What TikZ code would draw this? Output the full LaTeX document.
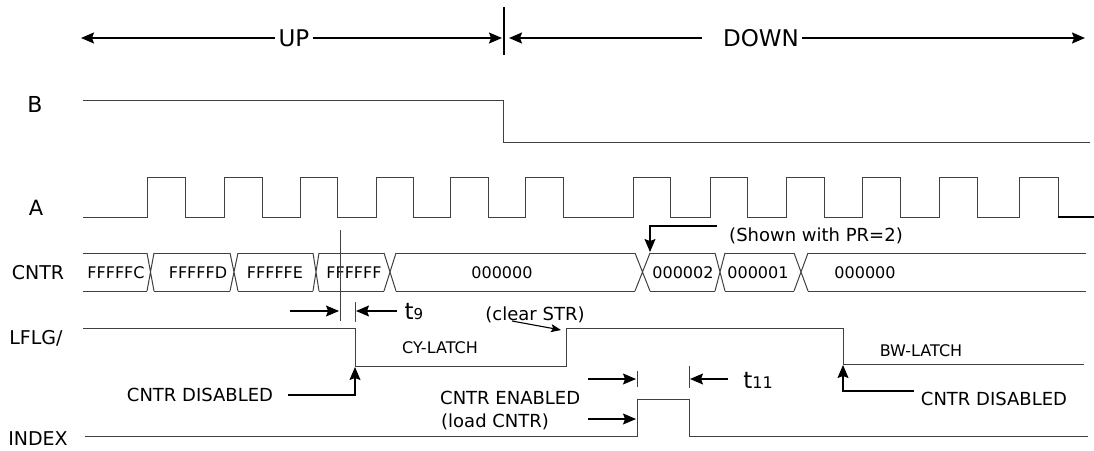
\documentclass[tikz,border=0pt]{standalone}
\usepackage{fontspec}
\setmainfont{DejaVu Sans}
\usepackage{tikz}
\usetikzlibrary{arrows.meta}
\newcommand{\fs}[1]{\fontsize{#1}{#1}\selectfont}

\begin{document}
\begin{tikzpicture}[x=1pt,y=-1pt,
    sig/.style={line width=1pt,black!75},
    lbl/.style={font=\fs{19}},
    val/.style={font=\fs{16}},
    note/.style={font=\fs{18}},
    >={Stealth[length=13pt,width=11pt,inset=2pt]}]
    \useasboundingbox (0,0) rectangle (1094,450);
    %UP / DOWN
    \node[font=\fs{23}] (up) at (294,38) {UP};
    \node[font=\fs{23}] (down) at (761,38) {DOWN};
    \draw[->,line width=1.6pt] (up.west)--(81,38);
    \draw[->,line width=1.6pt] (up.east)--(502,38);
    \draw[line width=1.5pt] (504,7)--(504,55);
    \draw[->,line width=1.6pt] ([xshift=-18pt]down.west)--(509,38);
    \draw[->,line width=1.6pt] (down.east)--(1085,38);
    %signal names
    \node[font=\fs{22}] (nB) at (35,104) {B};
    \node[font=\fs{21}] (nA) at (36,208) {A};
    \node[lbl] (nCNTR) at (38,273) {CNTR};
    \node[lbl] (nLFLG) at (36,338) {LFLG/};
    \node[lbl] (nINDEX) at (38,439) {INDEX};
    %B
    \draw[sig] (83,100)--(503,100)--(503,142)--(1090,142);
    %A
    \draw[sig] (83,217) foreach \r/\f in {147/185,224/262,300/337,376/413,450/488,525/563,633/670,710/747,786/824,862/900,939/977,1019/1058}
        {--(\r,217)--(\r,177)--(\f,177)--(\f,217)};
    \draw[line width=2pt] (1058,217)--(1094,217);
    %CNTR
    \foreach \a/\b in {83/147,154/230,238/313,319/384,396/635,650/715,725/794,808/1086}
        \draw[sig] (\a,253)--(\b,253) (\a,291)--(\b,291);
    \foreach \a/\b in {147/154,230/238,313/319,384/396,635/650,715/725,794/808}
        \draw[sig] (\a,253)--(\b,291) (\a,291)--(\b,253);
    \foreach \x/\v [count=\i] in {116/FFFFFC,198/FFFFFD,275/FFFFFE,354/FFFFFF,502/000000,683/000002,758/000001,865/000000}
        \node[val] (cnt\i) at (\x,273) {\v};
    \node[note] (pr) at (816,236) {(Shown with PR=2)};
    \draw[->,line width=1.1pt] (717,226)--(650,226)--(650,252);
    %t9
    \draw[sig] (340,230)--(340,321);
    \draw[sig] (355,302)--(355,322);
    \draw[->,line width=1.1pt] (290,311)--(339,311);
    \draw[->,line width=1.1pt] (397,311)--(356,311);
    \node (t9) at (414,312) {\fs{23}t\fs{15}9};
    %LFLG/
    \draw[sig] (83,328)--(355,328)--(355,366)--(566,366)--(566,328)--(843,328)--(843,364)--(1084,364);
    \node[val] (cy) at (440,348) {CY-LATCH};
    \node[val] (bw) at (921,351) {BW-LATCH};
    \node[note] (clr) at (535,315) {(clear STR)};
    \draw[->,line width=1.1pt,>={Stealth[length=10pt,width=8pt,inset=2pt]}] (512,321)--(561,330);
    \node[note] (disL) at (200,395) {CNTR DISABLED};
    \draw[->,line width=1.1pt] (288,395)--(355,395)--(355,367);
    \node[note] (disR) at (994,399) {CNTR DISABLED};
    \draw[->,line width=1.1pt] (914,391)--(843,391)--(843,365);
    %INDEX
    \draw[sig] (85,436)--(637,436)--(637,399)--(689,399)--(689,436)--(1088,436);
    \node[note,anchor=west,inner sep=0pt] (en) at (440,398) {CNTR ENABLED};
    \node[note,anchor=west,inner sep=0pt] (ld) at (441,422) {(load CNTR)};
    \draw[->,line width=1.1pt] (588,419)--(636,419);
    %t11
    \draw[sig] (637,371)--(637,387);
    \draw[sig] (689,366)--(689,388);
    \draw[->,line width=1.1pt] (588,379)--(636,379);
    \draw[->,line width=1.1pt] (728,379)--(690,379);
    \node (t11) at (758,380) {\fs{23}t\fs{16}11};
\end{tikzpicture}
\end{document}
